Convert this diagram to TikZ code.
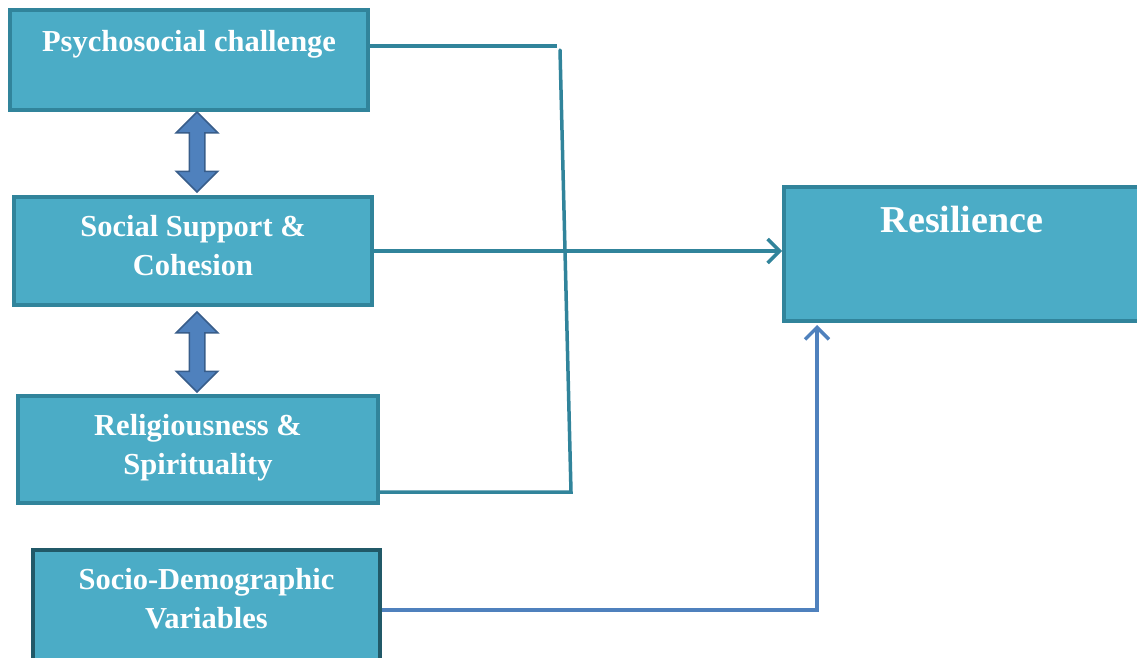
\documentclass[tikz,border=0pt]{standalone}
\usepackage{fontspec}
\setmainfont{Liberation Serif}
\usetikzlibrary{arrows.meta,shapes.arrows}

\definecolor{boxfill}{HTML}{4BACC6}
\definecolor{boxline}{HTML}{31849B}
\definecolor{boxdark}{HTML}{215968}
\definecolor{bluefill}{HTML}{4F81BD}
\definecolor{blueline}{HTML}{385D8A}

\tikzset{
  factor/.style={draw=boxline, fill=boxfill, line width=4pt, text=white,
    font=\bfseries\fontsize{30.5}{39}\selectfont, align=center, inner sep=0pt},
  lbl/.style={text=white, inner sep=0pt, font=\bfseries\fontsize{30.5}{39}\selectfont},
  link/.style={draw=boxline, line width=3.5pt},
  bilink/.style={double arrow, draw=blueline, fill=bluefill, line width=1.5pt,
    shape border rotate=90, minimum height=80pt, minimum width=40pt,
    double arrow head extend=13pt, inner sep=7pt},
}

\begin{document}
\begin{tikzpicture}[x=1pt, y=-1pt]
  \useasboundingbox (0,0) rectangle (1137,657);

  % Boxes
  \node[factor, minimum width=358pt, minimum height=100pt,
    label={[lbl, anchor=base, yshift=-43pt]north:Psychosocial challenge}] (psy) at (189,60) {};
  \node[factor, text depth=12pt, minimum width=358pt, minimum height=108pt] (soc) at (193,251) {Social Support \&\\Cohesion};
  \node[factor, text depth=11pt, minimum width=360pt, minimum height=107pt] (rel) at (198,449.5) {Religiousness \&\\Spirituality};
  \node[factor, text depth=14pt, draw=boxdark, minimum width=347pt, minimum height=110pt] (dem) at (206.5,605) {Socio-Demographic\\Variables};
  \node[factor, minimum width=356pt, minimum height=134pt,
    label={[lbl, anchor=base, yshift=-47pt, font=\bfseries\fontsize{38}{46}\selectfont]north:Resilience}] (res) at (962,254) {};

  % Two-way arrows
  \node[bilink] (psysoc) at (197,152) {};
  \node[bilink] (socrel) at (197,352) {};

  % Lines to resilience
  \coordinate (jtop) at (557,46);
  \coordinate (jvt) at (560,50);
  \coordinate (jbot) at (571,492);
  \draw[link] ([yshift=14pt]psy.east) -- (jtop);
  \draw[link, line cap=round] (jvt) -- (jbot) -- ([yshift=-42.5pt]rel.east);
  \draw[link, -{Straight Barb[length=12pt,width=24pt]}] (soc.east) -- (soc.east -| res.west);
  \draw[draw=bluefill, line width=3.5pt, -{Straight Barb[length=12pt,width=24pt]}]
    ([yshift=-5pt]dem.east) -| ([xshift=35pt,yshift=-2pt]res.south west);
\end{tikzpicture}
\end{document}
